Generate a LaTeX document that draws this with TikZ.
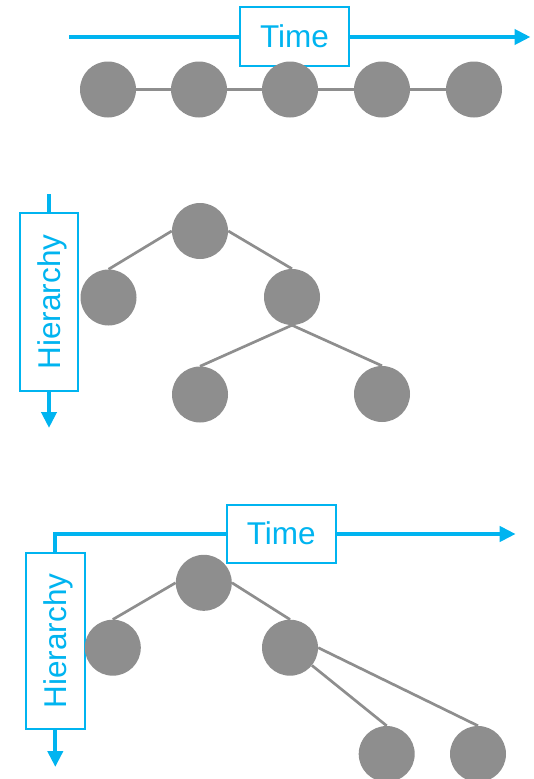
\documentclass[tikz,border=0pt]{standalone}
\usepackage{fontspec}
\setmainfont{Liberation Sans}
\usetikzlibrary{arrows.meta,backgrounds}
\definecolor{axisblue}{HTML}{00B4F0}
\definecolor{nodegray}{HTML}{8E8E8E}
\begin{document}
\begin{tikzpicture}[x=1pt,y=-1pt,
  dot/.style={circle,fill=nodegray,minimum size=56pt,inner sep=0pt},
  edge/.style={draw=nodegray,line width=2.7pt},
  axis/.style={draw=axisblue,line width=4.3pt,-{Triangle[length=16pt,width=15pt]}},
  labelbox/.style={draw=axisblue,line width=1.8pt,fill=white,text=axisblue,inner sep=0pt,
    font=\fontsize{31.5}{37}\selectfont}
]
\useasboundingbox (0,0) rectangle (534,779);

% ---------- top: time ----------
\coordinate (t1s) at (69,37);
\coordinate (t1e) at (530.5,37);
\node[labelbox,minimum width=109pt,minimum height=59pt] (time1) at (294.5,36.5) {Time};
\node[dot] (a1) at (108,89.5) {};
\node[dot] (a2) at (199,89.5) {};
\node[dot] (a3) at (290,89.5) {};
\node[dot] (a4) at (382,89.5) {};
\node[dot] (a5) at (474,89.5) {};
\draw[edge] (a1) -- (a2) -- (a3) -- (a4) -- (a5);

% ---------- middle: hierarchy ----------
\coordinate (h1s) at (49,194);
\coordinate (h1e) at (49,428);
\node[labelbox,rotate=90,minimum width=178pt,minimum height=58pt,text depth=0pt] (hier1) at (49,302) {Hierarchy};
\node[dot] (b1) at (200,231) {};
\node[dot] (b2) at (108.5,297.5) {};
\node[dot] (b3) at (292,297) {};
\node[dot] (b4) at (200,394.5) {};
\node[dot] (b5) at (382,394) {};
\draw[edge] (b1.west) -- (b2.north);
\draw[edge] (b1.east) -- (b3.north);
\draw[edge] (b3.south) -- (b4.north);
\draw[edge] (b3.south) -- (b5.north);

% ---------- bottom: both ----------
\coordinate (h2top) at (55.3,553);
\coordinate (h2e) at (55.3,767);
\coordinate (t2e) at (515.7,534);
\node[labelbox,minimum width=109pt,minimum height=58pt] (time2) at (281.3,533.7) {Time};
\node[labelbox,rotate=90,minimum width=176pt,minimum height=58.7pt,text depth=0pt] (hier2) at (55.3,641) {Hierarchy};
\node[dot] (c1) at (203.8,582.8) {};
\node[dot] (c2) at (112.8,647.7) {};
\node[dot] (c3) at (290,647.7) {};
\node[dot] (c4) at (386.7,754) {};
\node[dot] (c5) at (478,754) {};
\draw[edge] (c1.west) -- (c2.north);
\draw[edge] (c1.east) -- (c3.north);
\draw[edge] (c3) -- (c4.north);
\draw[edge] (c3.east) -- (c5.north);

\begin{scope}[on background layer]
  \draw[axis] (t1s) -- (t1e);
  \draw[axis] (h1s) -- (h1e);
  \draw[axis] (h2top) |- (t2e);
  \draw[axis] (hier2) -- (h2e);
\end{scope}
\end{tikzpicture}
\end{document}
